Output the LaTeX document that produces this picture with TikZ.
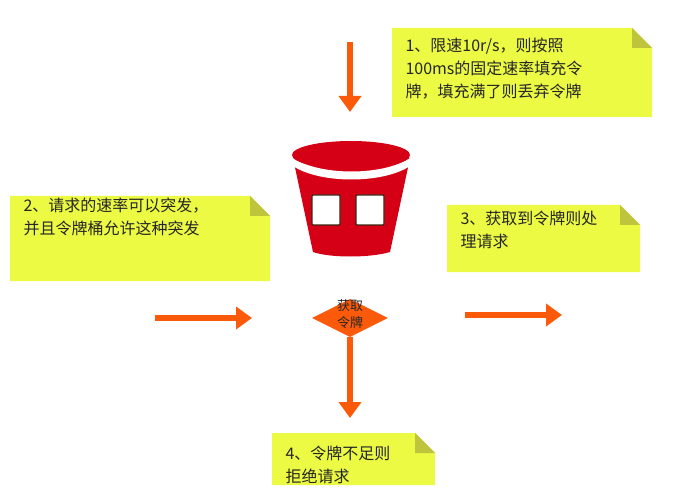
\documentclass[tikz,border=0pt]{standalone}
\usepackage{fontspec}
\setmainfont{Noto Sans CJK SC}
\usetikzlibrary{arrows.meta,shapes.geometric}
\definecolor{notefill}{RGB}{236,250,68}
\definecolor{notefold}{RGB}{190,196,60}
\definecolor{arroworange}{RGB}{250,90,10}
\definecolor{bucketred}{RGB}{214,0,22}
\tikzset{
  flow/.style={arroworange,line width=6pt,-{Triangle[length=16pt,width=22pt]}},
  note text/.style={anchor=north west,align=left,font=\fontsize{16}{23}\selectfont,text=black!85}
}
\newcommand{\notebox}[5]{% x1,y1,x2,y2,name
  \fill[notefill] (#1,#2) -- (#3-20,#2) -- (#3,#2+20) -- (#3,#4) -- (#1,#4) -- cycle;
  \fill[notefold] (#3-20,#2) -- (#3,#2+20) -- (#3-20,#2+20) -- cycle;
  \coordinate (#5) at (#1+10,#2+6);
}
\begin{document}
\begin{tikzpicture}[x=1pt,y=-1pt]
\useasboundingbox (0,0) rectangle (694,492);
%notes
\notebox{392}{28}{652}{117}{n1}
\node[note text] (t1) at (n1) {1、限速10r/s，则按照\\100ms的固定速率填充令\\牌，填充满了则丢弃令牌};
\notebox{10}{196}{270}{281}{n2}
\node[note text] (t2) at ([yshift=8]n2) {2、请求的速率可以突发，\\并且令牌桶允许这种突发};
\notebox{447}{205}{640}{272}{n3}
\node[note text] (t3) at ([yshift=4]n3) {3、获取到令牌则处\\理请求};
\notebox{272}{433}{435}{485}{n4}
\node[note text] (t4) at ([yshift=-3]n4) {4、令牌不足则\\拒绝请求};
%bucket
\fill[bucketred] (293,158) -- (313,252) .. controls (330,258) and (370,258) .. (390,252) -- (410,158) -- cycle;
\fill[white] (293,158) .. controls (320,176) and (383,176) .. (410,158) -- (410,166) .. controls (383,184) and (320,184) .. (293,166) -- cycle;
\fill[bucketred] (351,155) ellipse [x radius=59, y radius=14];
\foreach \bx in {312,356}
  \draw[fill=white,draw=black!70!brown,line width=1.2pt,rounded corners=1pt] (\bx,195) rectangle ++(28,30);
%diamond
\node[diamond,fill=arroworange,minimum width=76pt,minimum height=38pt,inner sep=0pt] (get) at (350,318) {};
\node[align=center,font=\fontsize{13}{17}\selectfont,text=black!85] (gett) at (350,314) {获取\\令牌};
%arrows
\coordinate (a1) at (350,42); \coordinate (b1) at (350,112);
\coordinate (a2) at (155,318); \coordinate (b2) at (252,318);
\coordinate (a3) at (465,315); \coordinate (b3) at (562,315);
\coordinate (b4) at (350,418);
\draw[flow] (a1) -- (b1);
\draw[flow] (a2) -- (b2);
\draw[flow] (a3) -- (b3);
\draw[flow] (get.south) -- (b4);
\end{tikzpicture}
\end{document}
